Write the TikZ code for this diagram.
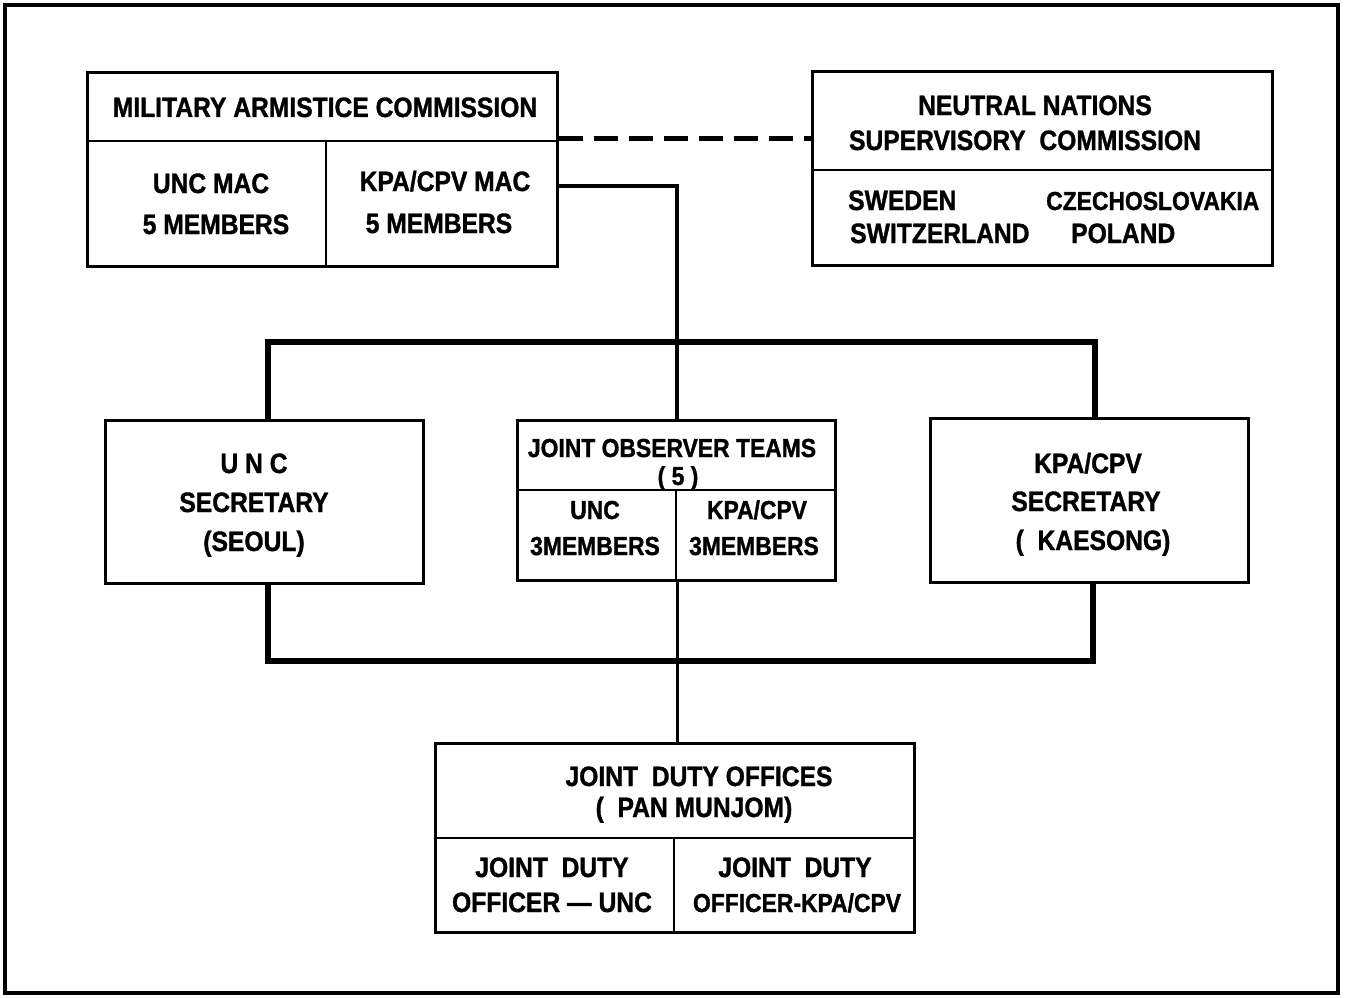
\documentclass[tikz,border=0pt]{standalone}
\usepackage{fontspec}
\setmainfont{Liberation Sans}[FakeStretch=0.88,FakeBold=1.2]
\begin{document}
\begin{tikzpicture}[x=1pt,y=-1pt,
  box/.style={draw, line width=3pt, inner sep=0pt, rectangle},
  divider/.style={line width=2.5pt},
  txt/.style={anchor=base, inner sep=0pt, font=\bfseries\fontsize{28}{28}\selectfont},
  txtl/.style={anchor=base west, inner sep=0pt, font=\bfseries\fontsize{28}{28}\selectfont},
  small/.style={font=\bfseries\fontsize{26}{26}\selectfont},
  link/.style={line width=5pt},
  thinlink/.style={line width=3pt},
  dashlink/.style={line width=5pt, dash pattern=on 24pt off 11pt}]
\useasboundingbox (0,0) rectangle (1347,998);
\draw[line width=4pt] (5,5) rectangle (1338,993);

% boxes
\node[box, minimum width=470pt, minimum height=193pt] (mac) at (322,169.5) {};
\node[box, minimum width=460pt, minimum height=193pt] (nnsc) at (1042,168.5) {};
\node[box, minimum width=318pt, minimum height=163pt] (uncs) at (264,501.5) {};
\node[box, minimum width=318pt, minimum height=160pt] (jot) at (676,500) {};
\node[box, minimum width=318pt, minimum height=164pt] (kpas) at (1089,500) {};
\node[box, minimum width=479pt, minimum height=189pt] (jdo) at (674.5,837.5) {};

% dividers
\coordinate (macdiv) at (0,141);
\draw[divider] (mac.west |- macdiv) -- (mac.east |- macdiv);
\draw[divider] (326,141) -- (326,0 |- mac.south);
\coordinate (nnscdiv) at (0,170);
\draw[divider] (nnsc.west |- nnscdiv) -- (nnsc.east |- nnscdiv);
\coordinate (jotdiv) at (0,490);
\draw[divider] (jot.west |- jotdiv) -- (jot.east |- jotdiv);
\draw[divider] (676,490) -- (676,0 |- jot.south);
\coordinate (jdodiv) at (0,838);
\draw[divider] (jdo.west |- jdodiv) -- (jdo.east |- jdodiv);
\draw[divider] (674,838) -- (674,0 |- jdo.south);

% texts
\node[txt] (t-mac) at (325,117) {MILITARY ARMISTICE COMMISSION};
\node[txt] (t-uncmac1) at (211,193) {UNC MAC};
\node[txt] (t-uncmac2) at (216,234) {5 MEMBERS};
\node[txt] (t-kpamac1) at (445,191) {KPA/CPV MAC};
\node[txt] (t-kpamac2) at (439,233) {5 MEMBERS};

\node[txt] (t-nn1) at (1035,115) {NEUTRAL NATIONS};
\node[txt] (t-nn2) at (1025,150) {SUPERVISORY\ \ COMMISSION};
\node[txtl] (t-sw1) at (848,210) {SWEDEN};
\node[txtl] (t-sw2) at (850,243) {SWITZERLAND};
\node[txtl, small] (t-cz) at (1046,210) {CZECHOSLOVAKIA};
\node[txtl] (t-pl) at (1071,243) {POLAND};

\node[txt] (t-us1) at (254,473) {U N C};
\node[txt] (t-us2) at (254,512) {SECRETARY};
\node[txt] (t-us3) at (254,551) {(SEOUL)};

\node[txt, small] (t-jot1) at (672,457) {JOINT OBSERVER TEAMS};
\node[txt, small] (t-jot2) at (678,485) {( 5 )};
\node[txt, small] (t-jotu1) at (595,519) {UNC};
\node[txt, small] (t-jotu2) at (595,555) {3MEMBERS};
\node[txt, small] (t-jotk1) at (757,519) {KPA/CPV};
\node[txt, small] (t-jotk2) at (754,555) {3MEMBERS};

\node[txt] (t-ks1) at (1088,473) {KPA/CPV};
\node[txt] (t-ks2) at (1086,511) {SECRETARY};
\node[txt] (t-ks3) at (1093,550) {(\ \ KAESONG)};

\node[txt] (t-jdo1) at (699,786) {JOINT\ \ DUTY OFFICES};
\node[txt] (t-jdo2) at (694,817) {(\ \ PAN MUNJOM)};
\node[txt] (t-jdu1) at (552,877) {JOINT\ \ DUTY};
\node[txt] (t-jdu2) at (552,912) {OFFICER --- UNC};
\node[txt] (t-jdk1) at (795,877) {JOINT\ \ DUTY};
\node[txt, small] (t-jdk2) at (797,912) {OFFICER-KPA/CPV};

% connectors
\coordinate (bar) at (677,342);
\draw[dashlink] (mac.east |- 0,138) -- (nnsc.west |- 0,138);
\draw[link, line width=4pt] (mac.east |- 0,186) -| (bar) -- (bar |- jot.north);
\draw[link, line width=6pt] (uncs.north -| 268,0) |- (bar) -| (kpas.north -| 1095,0);
\draw[link, line width=6pt] (uncs.south -| 268,0) |- (bar |- 0,661) -| (kpas.south -| 1093,0);
\draw[thinlink] (jot.south -| bar) -- (jdo.north -| bar);
\end{tikzpicture}
\end{document}
